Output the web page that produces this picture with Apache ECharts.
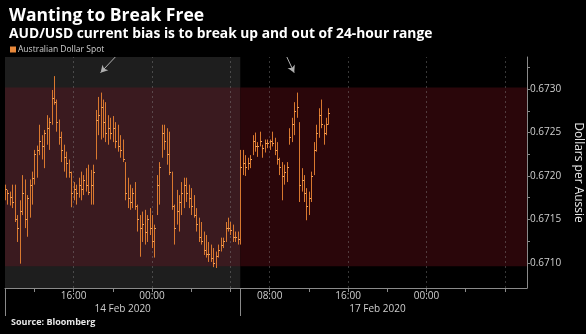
<!DOCTYPE html>
<html><head><meta charset="utf-8">
<script src="https://cdn.jsdelivr.net/npm/echarts@6/dist/echarts.min.js"></script>
<style>html,body{margin:0;padding:0;background:#000;}#c{width:586px;height:334px;}</style>
</head><body><div id="c"></div><script>
// ---- Data (AUD/USD 15-minute bars, Sydney time) ----
var fridayStart = '2020-02-14 09:00';
var mondayStart = '2020-02-17 05:00';
var barMinutes = 15;
var mondaySlots = 118; // through 2020-02-18 10:15 (axis end)

var fridayHigh = [0.67190,0.67184,0.67182,0.67190,0.67190,0.67155,0.67172,0.67201,0.67196,0.67178,
0.67196,0.67205,0.67230,0.67235,0.67259,0.67247,0.67253,0.67270,0.67267,0.67299,
0.67315,0.67288,0.67265,0.67251,0.67236,0.67228,0.67219,0.67205,0.67193,0.67190,
0.67198,0.67205,0.67201,0.67209,0.67213,0.67207,0.67213,0.67276,0.67291,0.67296,
0.67288,0.67285,0.67270,0.67267,0.67269,0.67262,0.67259,0.67247,0.67242,0.67216,
0.67198,0.67190,0.67186,0.67193,0.67167,0.67155,0.67159,0.67161,0.67155,0.67163,
0.67155,0.67144,0.67201,0.67216,0.67259,0.67259,0.67255,0.67251,0.67205,0.67167,
0.67184,0.67178,0.67193,0.67198,0.67198,0.67190,0.67186,0.67178,0.67163,0.67152,
0.67147,0.67136,0.67132,0.67124,0.67121,0.67117,0.67113,0.67121,0.67129,0.67129,
0.67147,0.67152,0.67147,0.67144,0.67136,0.67136];
var fridayLow = [0.67172,0.67167,0.67166,0.67163,0.67147,0.67124,0.67099,0.67155,0.67140,0.67130,
0.67152,0.67167,0.67190,0.67198,0.67224,0.67219,0.67209,0.67236,0.67230,0.67259,
0.67282,0.67251,0.67236,0.67216,0.67205,0.67198,0.67198,0.67164,0.67172,0.67167,
0.67175,0.67172,0.67178,0.67182,0.67178,0.67167,0.67167,0.67219,0.67247,0.67242,
0.67244,0.67239,0.67236,0.67242,0.67239,0.67232,0.67228,0.67221,0.67216,0.67172,
0.67163,0.67161,0.67163,0.67161,0.67136,0.67107,0.67124,0.67121,0.67124,0.67132,
0.67117,0.67106,0.67155,0.67167,0.67221,0.67230,0.67213,0.67201,0.67161,0.67121,
0.67144,0.67136,0.67155,0.67163,0.67170,0.67163,0.67155,0.67152,0.67136,0.67124,
0.67121,0.67109,0.67106,0.67101,0.67101,0.67095,0.67094,0.67106,0.67113,0.67117,
0.67124,0.67136,0.67132,0.67124,0.67124,0.67121];
var fridayClose = [0.67185,0.67180,0.67176,0.67170,0.67150,0.67140,0.67160,0.67180,0.67150,0.67175,
0.67190,0.67198,0.67225,0.67230,0.67240,0.67235,0.67250,0.67255,0.67262,0.67290,
0.67285,0.67262,0.67245,0.67230,0.67222,0.67215,0.67205,0.67180,0.67185,0.67180,
0.67190,0.67185,0.67195,0.67190,0.67182,0.67190,0.67205,0.67265,0.67270,0.67280,
0.67262,0.67250,0.67255,0.67250,0.67255,0.67240,0.67235,0.67230,0.67220,0.67180,
0.67175,0.67170,0.67180,0.67165,0.67150,0.67140,0.67145,0.67135,0.67150,0.67140,
0.67125,0.67140,0.67190,0.67210,0.67250,0.67240,0.67225,0.67205,0.67165,0.67140,
0.67160,0.67170,0.67180,0.67190,0.67180,0.67175,0.67165,0.67155,0.67145,0.67130,
0.67125,0.67115,0.67110,0.67110,0.67105,0.67100,0.67108,0.67115,0.67120,0.67125,
0.67140,0.67140,0.67138,0.67130,0.67130,0.67128];

var mondayHigh = [0.67230,0.67230,0.67224,0.67221,0.67224,0.67247,0.67250,0.67239,0.67251,0.67236,
0.67242,0.67242,0.67242,0.67251,0.67244,0.67239,0.67221,0.67216,0.67213,0.67216,
0.67255,0.67267,0.67285,0.67296,0.67262,0.67209,0.67201,0.67186,0.67182,0.67205,
0.67239,0.67259,0.67278,0.67288,0.67259,0.67267,0.67278];
var mondayLow = [0.67121,0.67201,0.67200,0.67207,0.67209,0.67224,0.67228,0.67222,0.67234,0.67221,
0.67227,0.67232,0.67230,0.67234,0.67224,0.67213,0.67201,0.67172,0.67190,0.67193,
0.67236,0.67239,0.67247,0.67267,0.67170,0.67182,0.67170,0.67149,0.67155,0.67170,
0.67201,0.67228,0.67244,0.67255,0.67236,0.67247,0.67259];
var mondayClose = [0.67210,0.67215,0.67210,0.67215,0.67220,0.67240,0.67235,0.67235,0.67240,0.67232,
0.67238,0.67238,0.67240,0.67238,0.67230,0.67220,0.67210,0.67200,0.67205,0.67210,
0.67245,0.67260,0.67275,0.67280,0.67190,0.67195,0.67180,0.67165,0.67175,0.67200,
0.67230,0.67250,0.67270,0.67260,0.67250,0.67260,0.67272];

var rangeHigh = 0.67302;   // 24-hour range top
var rangeLow = 0.67096;    // 24-hour range bottom
var yMin = 0.67071, yMax = 0.67337;
var yLabels = [0.6710, 0.6715, 0.6720, 0.6725, 0.6730];
var yMinorTicks = [0.67125, 0.67175, 0.67225, 0.67275, 0.67325];
var xTimeLabels = ['2020-02-14 16:00','2020-02-15 00:00','2020-02-17 08:00','2020-02-17 16:00','2020-02-18 00:00'];
var xDateLabels = {'2020-02-14 21:00':'14 Feb 2020','2020-02-17 19:00':'17 Feb 2020'};
var arrow1 = [['2020-02-14 20:15', 0.67337], ['2020-02-14 18:45', 0.67319]];
var arrow2 = [['2020-02-17 09:45', 0.67337], ['2020-02-17 10:30', 0.67319]];

// ---- Build categories ----
function pad(n){return (n<10?'0':'')+n;}
function parseT(s){var p=s.split(/[- :]/);return Date.UTC(+p[0],+p[1]-1,+p[2],+p[3],+p[4]);}
function fmt(ms){var d=new Date(ms);return d.getUTCFullYear()+'-'+pad(d.getUTCMonth()+1)+'-'+pad(d.getUTCDate())+' '+pad(d.getUTCHours())+':'+pad(d.getUTCMinutes());}
var barMs = barMinutes*60000;
var cats = [];
var f0 = parseT(fridayStart), m0 = parseT(mondayStart);
for (var i=0;i<fridayHigh.length;i++) cats.push(fmt(f0+i*barMs));
var monIdx0 = cats.length;
for (var j=0;j<mondaySlots;j++) cats.push(fmt(m0+j*barMs));
var lastIdx = cats.length-1;

var bars = [];
for (i=0;i<fridayHigh.length;i++) bars.push([i, fridayHigh[i], fridayLow[i], fridayClose[i]]);
for (j=0;j<mondayHigh.length;j++) bars.push([monIdx0+j, mondayHigh[j], mondayLow[j], mondayClose[j]]);

function hm(c){return c.slice(11);}
function isTick(c){var h=+c.slice(11,13), m=+c.slice(14,16); return m===0 && h%4===0;}
function isGrid(c){var h=+c.slice(11,13), m=+c.slice(14,16); return m===0 && h%8===0;}

var vGrid = [];
cats.forEach(function(c){ if (isGrid(c)) vGrid.push({xAxis:c}); });
var hGrid = yLabels.map(function(v){return {yAxis:v};});

var FONT = '"Open Sans", "Noto Sans", sans-serif';
var chart = echarts.init(document.getElementById('c'), null, {renderer:'canvas'});
chart.setOption({
  backgroundColor:'#000',
  animation:false,
  textStyle:{fontFamily:FONT},
  title:[
    {text:'Wanting to Break Free', left:4, top:2, textStyle:{color:'#fff', fontSize:17.5, fontWeight:'bold', fontFamily:FONT}},
    {text:'AUD/USD current bias is to break up and out of 24-hour range', left:4, top:22, textStyle:{color:'#fff', fontSize:13.8, fontWeight:'bold', fontFamily:FONT}},
    {text:'Source: Bloomberg', left:6, top:313, textStyle:{color:'#e8e8e8', fontSize:9, fontWeight:'bold', fontFamily:FONT}}
  ],
  legend:{data:['Australian Dollar Spot'], left:5, top:40, icon:'rect', itemWidth:6, itemHeight:6, itemGap:4,
    textStyle:{color:'#cfcfcf', fontSize:8.5, fontFamily:FONT, padding:[0,0,0,-3]}},
  grid:{left:5, right:59, top:57, bottom:46, outerBoundsMode:'none', containLabel:false},
  xAxis:[{
    type:'category', data:cats, boundaryGap:false, position:'bottom',
    axisLine:{show:true, lineStyle:{color:'#8a8a8a', width:1}},
    axisTick:{show:true, length:4, interval:function(idx,c){return isTick(c);}, lineStyle:{color:'#8a8a8a'}},
    axisLabel:{show:true, interval:function(idx,c){return xTimeLabels.indexOf(c)>=0;}, formatter:function(c){return hm(c);},
      color:'#cfcfcf', fontSize:10, margin:3, fontFamily:FONT},
    splitLine:{show:false}
  },{
    type:'category', data:cats, boundaryGap:false, position:'bottom',
    axisLine:{show:false},
    axisTick:{show:true, length:28, interval:function(idx){return idx===0 || idx===monIdx0;}, lineStyle:{color:'#8a8a8a'}},
    axisLabel:{show:true, interval:function(idx,c){return !!xDateLabels[c];}, formatter:function(c){return xDateLabels[c]||'';},
      color:'#cfcfcf', fontSize:10, margin:16, fontFamily:FONT},
    splitLine:{show:false}
  }],
  yAxis:{
    type:'value', position:'right', min:yMin, max:yMax,
    axisLine:{show:true, lineStyle:{color:'#8a8a8a'}},
    axisTick:{show:true, length:3, customValues:yLabels.concat(yMinorTicks), lineStyle:{color:'#8a8a8a'}},
    axisLabel:{show:true, customValues:yLabels, formatter:function(v){return v.toFixed(4);}, color:'#cfcfcf', fontSize:10, margin:3, fontFamily:FONT},
    splitLine:{show:false},
    name:'Dollars per Aussie', nameLocation:'middle', nameRotate:-90, nameGap:44,
    nameTextStyle:{color:'#e6e6e6', fontSize:12, fontFamily:FONT}
  },
  series:[
    {
      type:'line', name:'bg', data:[], silent:true, z:1,
      markArea:{silent:true, data:[
        [{xAxis:0, itemStyle:{color:'#1e1e1e'}}, {xAxis:monIdx0}],
        [{xAxis:0, yAxis:rangeLow, itemStyle:{color:'#3a1a1f'}}, {xAxis:monIdx0, yAxis:rangeHigh}],
        [{xAxis:monIdx0, yAxis:rangeLow, itemStyle:{color:'#2a060a'}}, {xAxis:lastIdx, yAxis:rangeHigh}]
      ]},
      markLine:{silent:true, symbol:'none', label:{show:false}, animation:false,
        data: vGrid.map(function(d){return Object.assign({lineStyle:{color:'rgba(140,140,140,0.4)', type:[2,3], width:1}}, d);})
          .concat(hGrid.map(function(d){return Object.assign({lineStyle:{color:'rgba(150,130,130,0.55)', type:[1,3], width:1}}, d);}))
          .concat([
            {yAxis:rangeHigh, lineStyle:{color:'#c8162c', type:'solid', width:1.5}},
            {yAxis:rangeLow, lineStyle:{color:'#7a2428', type:'solid', width:1.5}}
          ])
      }
    },
    {
      type:'custom', name:'Australian Dollar Spot', z:5,
      itemStyle:{color:'#e8883a'},
      data:bars,
      encode:{x:0, y:[1,2,3]},
      renderItem:function(params, api){
        var x = api.value(0);
        var hi = api.coord([x, api.value(1)]);
        var lo = api.coord([x, api.value(2)]);
        var cl = api.coord([x, api.value(3)]);
        var px = Math.round(hi[0]) + 0.5;
        var cy = Math.round(cl[1]) + 0.5;
        return {type:'group', children:[
          {type:'line', shape:{x1:px, y1:hi[1], x2:px, y2:lo[1]}, style:{stroke:'#d9782f', lineWidth:1}},
          {type:'line', shape:{x1:px, y1:cy, x2:px+1.5, y2:cy}, style:{stroke:'#f5a55a', lineWidth:1}}
        ]};
      }
    },
    {
      type:'line', name:'arrows', data:[], silent:true, z:6,
      markLine:{silent:true, symbol:['none','arrow'], symbolSize:[6,7], label:{show:false},
        lineStyle:{color:'#b0b0b0', width:1, type:'solid'},
        data:[
          [{coord:arrow1[0]}, {coord:arrow1[1]}],
          [{coord:arrow2[0]}, {coord:arrow2[1]}]
        ]}
    }
  ]
});
</script></body></html>
